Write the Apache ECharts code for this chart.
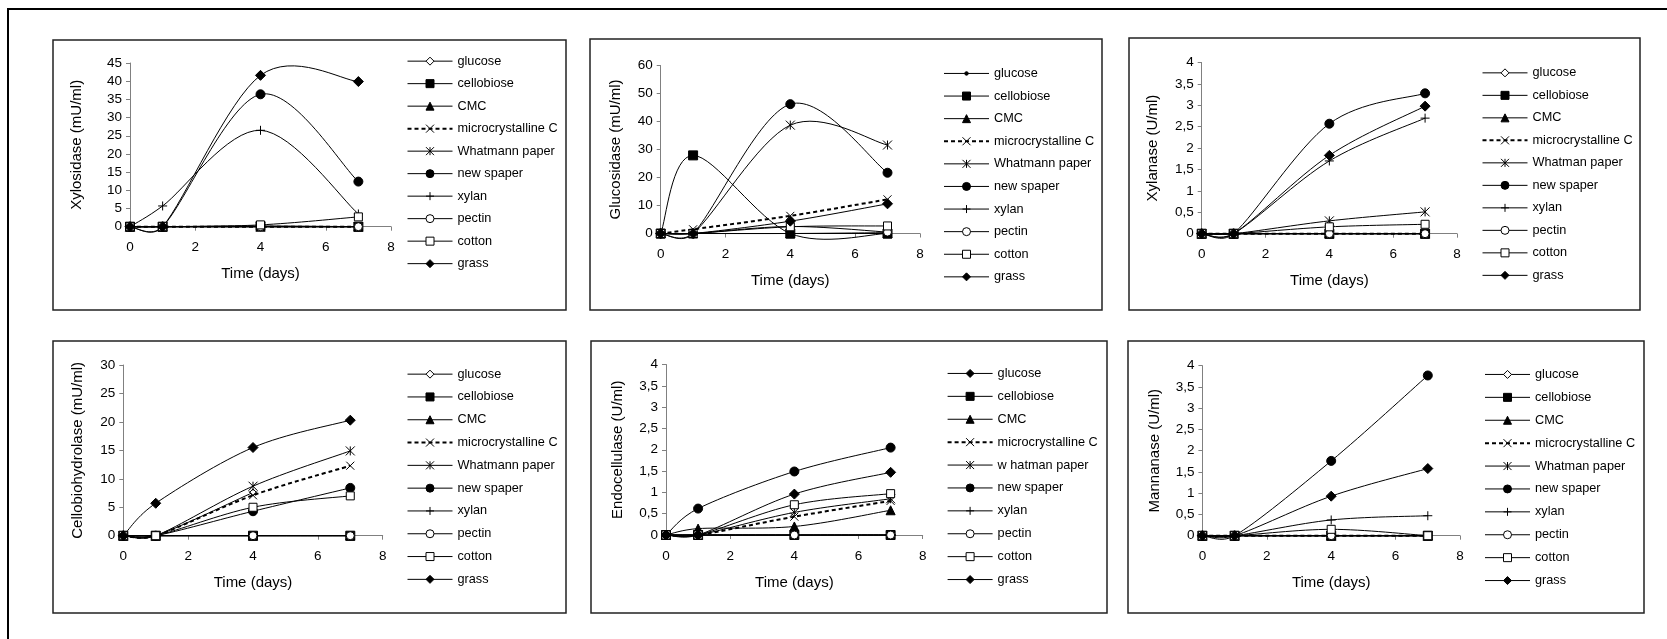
<!DOCTYPE html>
<html>
<head>
<meta charset="utf-8">
<script src="https://cdn.jsdelivr.net/npm/echarts@6/dist/echarts.min.js"></script>
<style>
  html, body { margin: 0; padding: 0; background: #fff; }
  #main { width: 1667px; height: 639px; }
</style>
</head>
<body>
<div id="main"></div>
<script>
// dias de muestreo
var days = [0, 1, 4, 7];

// nombres de la leyenda (cambian un poco de panel a panel)
var namesA = ['glucose', 'cellobiose', 'CMC', 'microcrystalline C', 'Whatmann paper', 'new spaper', 'xylan', 'pectin', 'cotton', 'grass'];
var namesB = ['glucose', 'cellobiose', 'CMC', 'microcrystalline C', 'Whatman paper', 'new spaper', 'xylan', 'pectin', 'cotton', 'grass'];
var namesC = ['glucose', 'cellobiose', 'CMC', 'microcrystalline C', 'w hatman paper', 'new spaper', 'xylan', 'pectin', 'cotton', 'grass'];

// una fila por sustrato, en el orden de la leyenda; columnas = days
var xylosidase = [
  [0, 0, 0, 0],
  [0, 0, 0.2, 0],
  [0, 0, 0, 0],
  [0, 0, 0, 0],
  [0, 0, 0, 0],
  [0, 0, 36.4, 12.4],
  [0, 5.7, 26.5, 3.5],
  [0, 0, 0, 0],
  [0, 0, 0.5, 2.7],
  [0, 0, 41.6, 39.9]
];
var glucosidase = [
  [0, 0, 0, 0],
  [0, 27.9, 0, 0],
  [0, 0, 0, 0],
  [0, 1.5, 6.3, 12.2],
  [0, 0, 38.7, 31.6],
  [0, 0, 46.2, 21.7],
  [0, 0, 0, 0.3],
  [0, 0, 2.5, 0.5],
  [0, 0, 2.4, 2.7],
  [0, 0, 4.4, 10.6]
];
var xylanase = [
  [0, 0, 0, 0],
  [0, 0, 0, 0],
  [0, 0, 0, 0],
  [0, 0, 0, 0],
  [0, 0, 0.3, 0.51],
  [0, 0, 2.57, 3.28],
  [0, 0, 1.7, 2.7],
  [0, 0, 0, 0],
  [0, 0, 0.16, 0.22],
  [0, 0, 1.83, 2.98]
];
var cellobiohydrolase = [
  [0, 0, 7.6, null],
  [0, 0, 0, 0],
  [0, 0, 0, 0],
  [0, 0, 7.1, 12.3],
  [0, 0, 8.7, 14.9],
  [0, 0, 4.3, 8.4],
  [0, 0, 0, 0],
  [0, 0, 0, 0],
  [0, 0, 5, 7],
  [0, 5.7, 15.5, 20.3]
];
var endocellulase = [
  [0, 0, 0, 0],
  [0, 0, 0, 0],
  [0, 0.15, 0.2, 0.58],
  [0, 0, 0.43, 0.8],
  [0, 0, 0.53, 0.85],
  [0, 0.62, 1.49, 2.05],
  [0, 0, 0, 0],
  [0, 0, 0, 0],
  [0, 0, 0.71, 0.97],
  [0, 0, 0.96, 1.47]
];
var mannanase = [
  [0, 0, 0, 0],
  [0, 0, 0, 0],
  [0, 0, 0, 0],
  [0, 0, 0, 0],
  [0, 0, 0, 0],
  [0, 0, 1.76, 3.77],
  [0, 0, 0.37, 0.47],
  [0, 0, 0, 0],
  [0, 0, 0.15, 0],
  [0, 0, 0.93, 1.58]
];

var fuente = 'Liberation Sans, Arial, sans-serif';

// marcadores de cada sustrato
var crossPath = 'path://M0,0L10,10M0,10L10,0';
var starPath = 'path://M0,0L10,10M0,10L10,0M5,0L5,10';
var plusPath = 'path://M5,0L5,10M0,5L10,5';
// punto chico dentro de una caja de 10x10 (asi tambien sale chico en la leyenda)
var dotPath = 'path://M0,0L0,0M10,10L10,10M2.8,5A2.2,2.2,0,1,0,7.2,5A2.2,2.2,0,1,0,2.8,5Z';
var marcadores = [
  { symbol: 'diamond', size: 7, fill: '#fff' },   // glucose
  { symbol: 'rect', size: 9, fill: '#000' },      // cellobiose
  { symbol: 'triangle', size: 9, fill: '#000' },  // CMC
  { symbol: crossPath, size: 8, fill: 'none' },   // microcrystalline C
  { symbol: starPath, size: 9, fill: 'none' },    // Whatmann paper
  { symbol: 'circle', size: 9, fill: '#000' },    // new spaper
  { symbol: plusPath, size: 9, fill: 'none' },    // xylan
  { symbol: 'circle', size: 8, fill: '#fff' },    // pectin
  { symbol: 'rect', size: 8, fill: '#fff' },      // cotton
  { symbol: 'diamond', size: 10, fill: '#000' }   // grass
];

// posiciones de cada panel: caja, area de trazado, leyenda
var paneles = [
  { yName: 'Xylosidase (mU/ml)', data: xylosidase, names: namesA, yMax: 45, yStep: 5,
    box: [53, 40, 513, 270], grid: [130, 63, 261, 163.7], yGap: 46, legend: [406.5, 61, 22.2], glucose: null },
  { yName: 'Glucosidase (mU/ml)', data: glucosidase, names: namesA, yMax: 60, yStep: 10,
    box: [590, 39, 512, 271], grid: [660.7, 65.5, 259.2, 168], yGap: 37, legend: [943, 73.3, 22.3], glucose: { symbol: dotPath, size: 10, fill: '#000' } },
  { yName: 'Xylanase (U/ml)', data: xylanase, names: namesB, yMax: 4, yStep: 0.5,
    box: [1129, 38, 511, 272], grid: [1201.7, 62.5, 255.3, 171.2], yGap: 41, legend: [1481.5, 72.7, 22.2], glucose: null },
  { yName: 'Cellobiohydrolase (mU/ml)', data: cellobiohydrolase, names: namesA, yMax: 30, yStep: 5,
    box: [53, 341, 513, 272], grid: [123.3, 365, 259.4, 170.7], yGap: 37.5, legend: [406.5, 374, 22.5], glucose: null },
  { yName: 'Endocellulase (U/ml)', data: endocellulase, names: namesC, yMax: 4, yStep: 0.5,
    box: [591, 341, 516, 272], grid: [666, 364.5, 256.7, 170.5], yGap: 41, legend: [946.6, 373.3, 22.6], glucose: { symbol: 'diamond', size: 10, fill: '#000' } },
  { yName: 'Mannanase (U/ml)', data: mannanase, names: namesB, yMax: 4, yStep: 0.5,
    box: [1128, 341, 516, 272], grid: [1202.4, 365.7, 257.6, 170], yGap: 40, legend: [1484, 374.3, 22.6], glucose: null }
];

// Curva suavizada como la de Excel (Bezier tipo Catmull-Rom, brazos 1/6,
// recortados a la mitad del tramo). Sin recorte de picos: puede pasar bajo cero.
function dist(a, b) {
  return Math.sqrt((a[0] - b[0]) * (a[0] - b[0]) + (a[1] - b[1]) * (a[1] - b[1]));
}
function curvaSuave(estilo) {
  return function (params, api) {
    if (params.dataIndexInside !== 0) return null;
    var n = params.dataInsideLength;
    var pts = [];
    for (var j = 0; j < n; j++) {
      pts.push(api.coord([api.value(0, j), api.value(1, j)]));
    }
    var d = 'M' + pts[0][0] + ',' + pts[0][1];
    for (var j = 0; j < n - 1; j++) {
      var p0 = pts[j > 0 ? j - 1 : j];
      var p1 = pts[j];
      var p2 = pts[j + 1];
      var p3 = pts[j + 2 < n ? j + 2 : j + 1];
      var d02 = dist(p0, p2), d12 = dist(p1, p2), d13 = dist(p1, p3);
      var f = d02 > 0 ? Math.min(1 / 6, d12 / (2 * d02)) : 0;
      var g = d13 > 0 ? Math.min(1 / 6, d12 / (2 * d13)) : 0;
      var c1x = p1[0] + f * (p2[0] - p0[0]), c1y = p1[1] + f * (p2[1] - p0[1]);
      var c2x = p2[0] - g * (p3[0] - p1[0]), c2y = p2[1] - g * (p3[1] - p1[1]);
      d += 'C' + c1x + ',' + c1y + ',' + c2x + ',' + c2y + ',' + p2[0] + ',' + p2[1];
    }
    return {
      type: 'path',
      shape: { pathData: d },
      style: { fill: 'none', stroke: '#000', lineWidth: estilo.width, lineDash: estilo.dash }
    };
  };
}

var grids = [], xAxes = [], yAxes = [], legends = [], series = [];
var graficos = [
  // marco exterior (solo se ven los bordes superior e izquierdo)
  { type: 'rect', shape: { x: 8, y: 9, width: 1720, height: 700 }, style: { fill: 'none', stroke: '#000', lineWidth: 2 }, silent: true }
];

var itemH = 10;
var textH = 12.7; // alto de linea del texto de la leyenda

paneles.forEach(function (p, i) {
  graficos.push({
    type: 'rect', shape: { x: p.box[0], y: p.box[1], width: p.box[2], height: p.box[3] },
    style: { fill: 'none', stroke: '#222', lineWidth: 1.5 }, silent: true
  });

  grids.push({ left: p.grid[0], top: p.grid[1], width: p.grid[2], height: p.grid[3], show: false });

  xAxes.push({
    type: 'value', gridIndex: i, min: 0, max: 8, interval: 2,
    name: 'Time (days)', nameLocation: 'middle', nameGap: 40,
    nameTextStyle: { fontSize: 15, color: '#000', fontFamily: fuente },
    axisLine: { show: true, onZero: false, lineStyle: { color: '#808080', width: 1 } },
    axisTick: { show: true, inside: false, length: 4, lineStyle: { color: '#808080' } },
    axisLabel: { fontSize: 13.5, color: '#000', fontFamily: fuente, margin: 14 },
    splitLine: { show: false }
  });

  yAxes.push({
    type: 'value', gridIndex: i, min: 0, max: p.yMax, interval: p.yStep,
    name: p.yName, nameLocation: 'middle', nameGap: p.yGap,
    nameTextStyle: { fontSize: 15, color: '#000', fontFamily: fuente },
    axisLine: { show: true, lineStyle: { color: '#808080', width: 1 } },
    axisTick: { show: true, inside: false, length: 4, lineStyle: { color: '#808080' } },
    axisLabel: {
      fontSize: 13.5, color: '#000', fontFamily: fuente, margin: 8,
      formatter: function (v) { return String(v).replace('.', ','); }
    },
    splitLine: { show: false }
  });

  var nombres = p.names.map(function (n) { return i + '|' + n; });

  legends.push({
    orient: 'vertical', left: p.legend[0], top: p.legend[1] - textH / 2,
    padding: 0, itemWidth: 45, itemHeight: itemH, itemGap: p.legend[2] - textH,
    selectedMode: false,
    data: nombres.map(function (n, k) {
      return {
        name: n,
        lineStyle: { color: '#000', opacity: 1, width: k === 3 ? 2 : 1, type: k === 3 ? [4, 3] : 'solid' }
      };
    }),
    formatter: function (n) { return n.split('|')[1]; },
    textStyle: { fontSize: 12.7, color: '#000', fontFamily: fuente },
    itemStyle: { borderWidth: 1 }
  });

  p.data.forEach(function (fila, k) {
    var m = (k === 0 && p.glucose) ? p.glucose : marcadores[k];
    var punteada = k === 3;
    var puntos = [];
    days.forEach(function (d, j) {
      if (fila[j] !== null) puntos.push([d, fila[j]]);
    });

    // la linea suavizada
    series.push({
      type: 'custom', xAxisIndex: i, yAxisIndex: i,
      data: puntos, encode: { x: 0, y: 1 },
      renderItem: curvaSuave({ width: punteada ? 2 : 1, dash: punteada ? [4, 3] : null }),
      silent: true, z: 2
    });

    // los marcadores (y la entrada de la leyenda)
    series.push({
      name: nombres[k],
      type: 'line', xAxisIndex: i, yAxisIndex: i,
      data: puntos,
      clip: false,
      symbol: m.symbol, symbolSize: m.size,
      lineStyle: { color: '#000', width: 1, opacity: 0 },
      itemStyle: { color: m.fill, borderColor: '#000', borderWidth: 1 },
      emphasis: { disabled: true },
      silent: true, z: 3
    });
  });
});

var myChart = echarts.init(document.getElementById('main'));
myChart.setOption({
  animation: false,
  backgroundColor: '#fff',
  textStyle: { fontFamily: fuente },
  grid: grids,
  xAxis: xAxes,
  yAxis: yAxes,
  legend: legends,
  graphic: graficos,
  series: series
});
</script>
</body>
</html>
